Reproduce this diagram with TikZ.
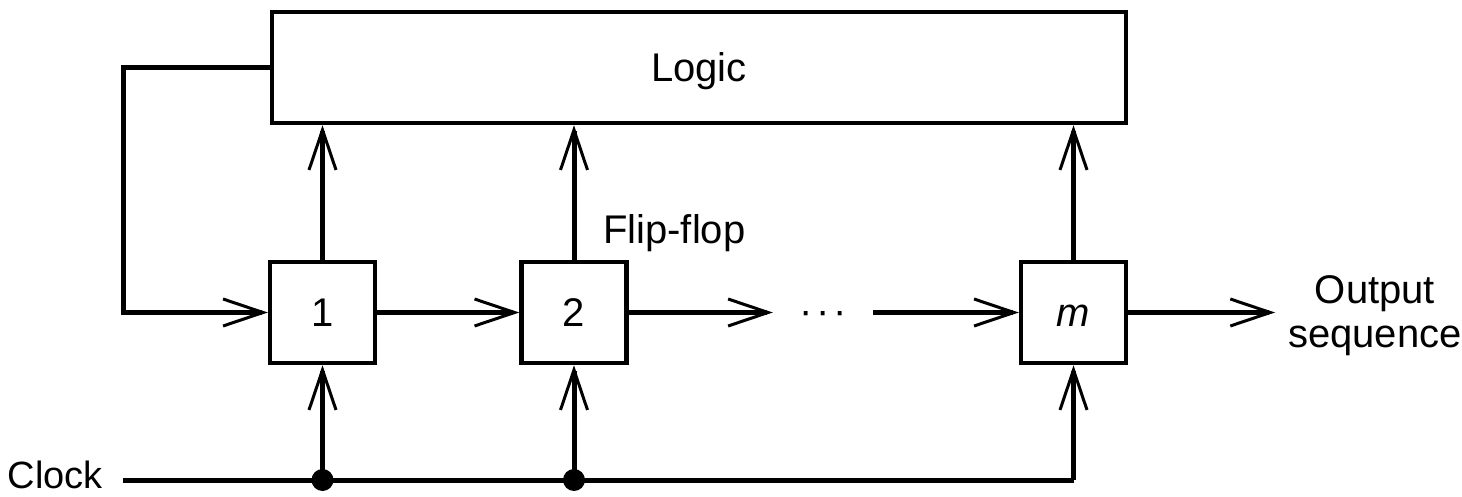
\documentclass[tikz,border=0pt]{standalone}
\usepackage{fontspec}
\setmainfont{Liberation Sans}
\usetikzlibrary{arrows.meta}
\begin{document}
\begin{tikzpicture}[x=1pt,y=-1pt,
  font=\fontsize{40}{46}\selectfont,
  wire/.style={line width=5pt},
  arr/.style={wire,-{Straight Barb[length=40pt,width=27pt,line width=3pt]}},
  box/.style={draw,line width=4.5pt,inner sep=0pt,text height=28.6pt,text depth=0pt},
  ff/.style={box,minimum width=105pt,minimum height=101pt},
  lbl/.style={inner sep=0pt,text height=28.6pt,text depth=0pt},
  jdot/.style={circle,fill,inner sep=0pt,minimum size=22pt}]
\useasboundingbox (0,0) rectangle (1462,497);

% logic block and the flip-flop chain
\node[box,minimum width=854pt,minimum height=111pt] (logic) at (699,67.5) {Logic};
\node[ff] (ff1) at (322.5,312.5) {1};
\node[ff] (ff2) at (574,312.5) {2};
\node[ff] (ffm) at (1073.5,312.5) {\textit{m}};
\node[inner sep=0pt,minimum width=100pt,text height=23pt,text depth=0pt] (dots) at (823,312.5)
  {·\kern4pt·\kern4pt·};

% labels
\node[lbl,anchor=west] (fflbl) at (603,229) {Flip-flop};
\node[lbl,anchor=east,inner xsep=20pt,font=\fontsize{38}{44}\selectfont,
      text height=27pt] (clock) at (123,475) {Clock};
\node[inner sep=0pt,align=center,anchor=west,inner xsep=13pt] (out) at (1275,316)
  {Output\\[-2pt]sequence};

% feedback from logic to the first stage
\coordinate (fbtop) at (123,67.5);
\coordinate (fbbot) at (123,312.5);
\draw[arr] (logic.west) -- (fbtop) -- (fbbot) -- (ff1.west);

% shift path
\draw[arr] (ff1.east) -- (ff2.west);
\draw[arr] (ff2.east) -- (dots.west);
\draw[arr] (dots.east) -- (ffm.west);
\draw[arr] (ffm.east) -- (ffm.east -| out.west);

% stage outputs into the logic
\draw[arr] (ff1.north) -- (ff1.north |- logic.south);
\draw[arr] (ff2.north) -- (ff2.north |- logic.south);
\draw[arr] (ffm.north) -- (ffm.north |- logic.south);

% clock distribution
\coordinate (j1) at (ff1.south |- 0,480);
\coordinate (j2) at (ff2.south |- 0,480);
\coordinate (jm) at (ffm.south |- 0,480);
\draw[wire] (clock.east |- jm) -- (jm);
\draw[arr] (jm) -- (ffm.south);
\draw[arr] (j1) -- (ff1.south);
\draw[arr] (j2) -- (ff2.south);
\node[jdot] at (j1) {};
\node[jdot] at (j2) {};
\end{tikzpicture}
\end{document}
